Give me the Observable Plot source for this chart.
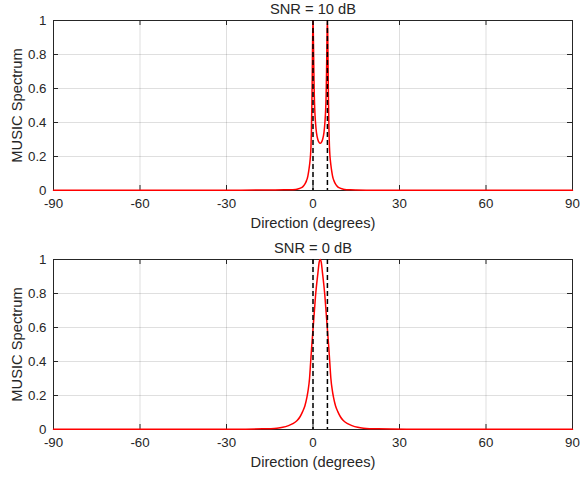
<!DOCTYPE html>
<html>
<head>
<meta charset="utf-8">
<script src="https://cdn.jsdelivr.net/npm/d3@7"></script>
<script src="https://cdn.jsdelivr.net/npm/@observablehq/plot@0.6"></script>
<style>
  html, body { margin: 0; padding: 0; background: white; }
  #chart svg { display: block; }
</style>
</head>
<body>
<div id="chart"></div>
<script>
// ---- Data ----
const xTicks = [-90, -60, -30, 0, 30, 60, 90];
const yTicks = [0, 0.2, 0.4, 0.6, 0.8, 1];
const trueDOAs = [0, 5];
const titles = ["SNR = 10 dB", "SNR = 0 dB"];
const xLabel = "Direction (degrees)";
const yLabel = "MUSIC Spectrum";

// SNR = 10 dB spectrum
const angles10 = [-90, -60, -40, -25, -15, -10, -8, -6, -5, -4, -3.5, -3, -2.5, -2.25, -2, -1.75, -1.45, -1.2, -1.0, -0.85, -0.7, -0.55, -0.4, -0.3, -0.2, -0.1, 0,
  0.1, 0.2, 0.3, 0.45, 0.6, 0.87, 1.2, 1.67, 2.1, 2.5, 2.9, 3.33, 3.8, 4.13, 4.4, 4.55, 4.7, 4.8, 4.9, 5.0,
  5.1, 5.2, 5.3, 5.4, 5.55, 5.7, 5.85, 6.0, 6.2, 6.45, 6.75, 7.0, 7.25, 7.5, 8, 8.5, 9, 10, 11, 13, 15, 20, 30, 50, 70, 90];
const spec10 = [0.0008, 0.001, 0.0015, 0.002, 0.003, 0.004, 0.004, 0.006, 0.01, 0.017, 0.023, 0.033, 0.048, 0.058, 0.07, 0.088, 0.118, 0.15, 0.18, 0.21, 0.26, 0.35, 0.5, 0.62, 0.78, 0.93, 1.0,
  0.94, 0.82, 0.70, 0.56, 0.48, 0.40, 0.34, 0.30, 0.283, 0.278, 0.283, 0.30, 0.34, 0.40, 0.48, 0.56, 0.70, 0.82, 0.94, 1.0,
  0.93, 0.78, 0.62, 0.5, 0.35, 0.26, 0.21, 0.18, 0.15, 0.118, 0.088, 0.07, 0.058, 0.048, 0.033, 0.023, 0.017, 0.01, 0.006, 0.004, 0.003, 0.002, 0.0015, 0.001, 0.001, 0.0008];

// SNR = 0 dB spectrum
const angles0 = [-90, -67.5, -47.5, -27.5, -17.5, -12.5, -10.5, -8.5, -7, -5.5, -4.5, -3.6, -2.8, -2.1, -1.7, -1.2, -0.8, -0.4, 0.1, 0.5, 0.95, 1.3, 1.7, 2.1, 2.5,
  2.9, 3.3, 3.7, 4.05, 4.5, 4.9, 5.4, 5.8, 6.2, 6.7, 7.1, 7.8, 8.6, 9.5, 10.5, 12, 13.5, 15.5, 17.5, 22.5, 32.5, 52.5, 72.5, 90];
const spec0 = [0.001, 0.001, 0.0012, 0.002, 0.004, 0.008, 0.013, 0.023, 0.034, 0.053, 0.075, 0.105, 0.14, 0.19, 0.23, 0.30, 0.40, 0.50, 0.61, 0.70, 0.80, 0.86, 0.92, 0.98, 1.0,
  0.98, 0.92, 0.86, 0.80, 0.70, 0.61, 0.50, 0.40, 0.30, 0.23, 0.19, 0.14, 0.105, 0.075, 0.053, 0.034, 0.023, 0.013, 0.008, 0.004, 0.002, 0.0012, 0.001, 0.001];

const axisColor = "#262626";
const font = "'Liberation Sans', Arial, Helvetica, sans-serif";

function panel(angles, spec, title) {
  const data = angles.map((a, i) => ({a, p: spec[i]}));
  return Plot.plot({
    width: 581,
    height: 239,
    marginTop: 20,
    marginBottom: 49,
    marginLeft: 53,
    marginRight: 9,
    style: {fontFamily: font, fontSize: "13.3px", color: axisColor, background: "white", overflow: "visible"},
    x: {domain: [-90, 90], label: null},
    y: {domain: [0, 1], label: null},
    marks: [
      Plot.gridX(xTicks, {stroke: axisColor, strokeOpacity: 0.15}),
      Plot.gridY(yTicks, {stroke: axisColor, strokeOpacity: 0.15}),
      Plot.frame({stroke: axisColor}),
      Plot.tickX(xTicks, {x: d => d, insetTop: 165, stroke: axisColor}),
      Plot.tickX(xTicks, {x: d => d, insetBottom: 165, stroke: axisColor}),
      Plot.tickY(yTicks, {y: d => d, insetRight: 514, stroke: axisColor}),
      Plot.tickY(yTicks, {y: d => d, insetLeft: 514, stroke: axisColor}),
      Plot.axisX(xTicks, {tickSize: 0, tickPadding: 8, tickFormat: d => String(d), label: null}),
      Plot.axisY(yTicks, {tickSize: 0, tickPadding: 7, tickFormat: d => String(d), label: null}),
      Plot.line(data, {x: "a", y: "p", stroke: "red", strokeWidth: 1.5, curve: "monotone-x"}),
      Plot.ruleX(trueDOAs, {stroke: "black", strokeWidth: 1.5, strokeDasharray: "5,3"}),
      Plot.text([title], {frameAnchor: "top", textAnchor: "middle", lineAnchor: "middle", dy: -11, fontSize: 14.7}),
      Plot.text([xLabel], {frameAnchor: "bottom", textAnchor: "middle", lineAnchor: "middle", dy: 33, fontSize: 14.7}),
      Plot.text([yLabel], {frameAnchor: "left", textAnchor: "middle", lineAnchor: "middle", dx: -36, rotate: -90, fontSize: 14.7})
    ]
  });
}

const root = document.getElementById("chart");
root.appendChild(panel(angles10, spec10, titles[0]));
root.appendChild(panel(angles0, spec0, titles[1]));
</script>
</body>
</html>
